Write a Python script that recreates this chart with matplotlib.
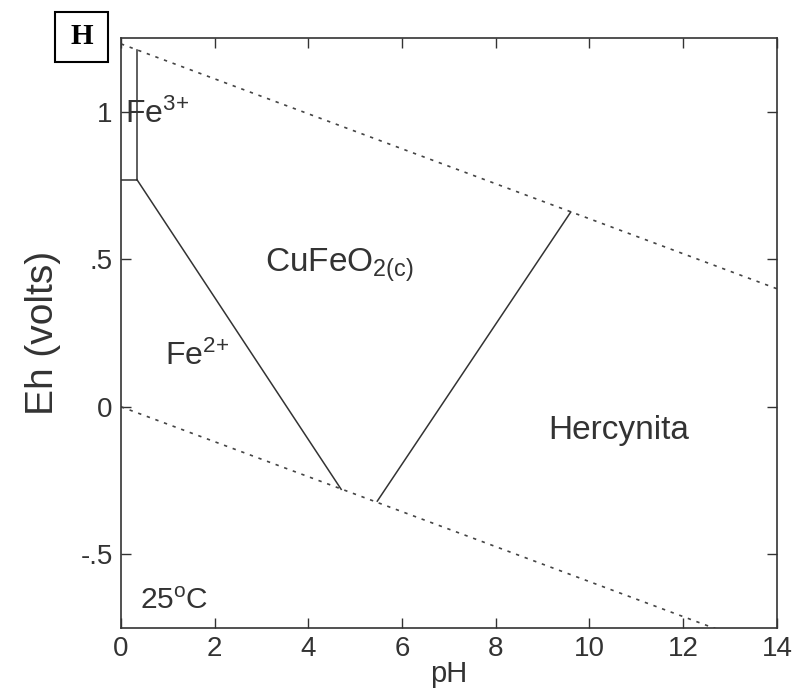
import matplotlib.pyplot as plt
from matplotlib.patches import Rectangle

plt.rcParams['font.family'] = ['Liberation Sans', 'DejaVu Sans']
plt.rcParams['mathtext.fontset'] = 'custom'
plt.rcParams['mathtext.rm'] = 'Liberation Sans'
plt.rcParams['mathtext.it'] = 'Liberation Sans'
plt.rcParams['mathtext.default'] = 'regular'

ink = '#333333'

# water stability limits (dotted)
water_ph = [0, 14]
water_upper = [1.23, 0.40]
water_lower = [0.0, -0.83]

# phase boundaries (solid)
fe3_fe2_ph, fe3_fe2_eh = [0, 0.34], [0.77, 0.77]
fe3_cu_ph, fe3_cu_eh = [0.34, 0.34], [0.77, 1.21]
fe2_cu_ph, fe2_cu_eh = [0.34, 4.70], [0.77, -0.28]
cu_herc_ph, cu_herc_eh = [5.47, 9.60], [-0.32, 0.66]

# field labels: text, pH, Eh, size
labels = [
    ('Fe$^{3{+}}$', 0.09, 0.99, 23),
    ('CuFeO$_{2(c)}$', 3.07, 0.48, 24),
    ('Fe$^{2{+}}$', 0.94, 0.17, 23),
    ('Hercynita', 9.11, -0.08, 24),
    ('25$^{o}$C', 0.40, -0.66, 21.5),
]

xticks = [0, 2, 4, 6, 8, 10, 12, 14]
yticks = [-0.5, 0, 0.5, 1]
yticklabels = ['-.5', '0', '.5', '1']

fig = plt.figure(figsize=(7.96, 6.88), dpi=100)
ax = fig.add_axes([0.152, 0.0872, 0.824, 0.8576])

dots = (0, (2, 3.5))
ax.plot(water_ph, water_upper, color='#444444', lw=1.2, ls=dots)
ax.plot(water_ph, water_lower, color='#444444', lw=1.2, ls=dots)

for xs, ys in [(fe3_fe2_ph, fe3_fe2_eh), (fe3_cu_ph, fe3_cu_eh),
               (fe2_cu_ph, fe2_cu_eh), (cu_herc_ph, cu_herc_eh)]:
    ax.plot(xs, ys, color=ink, lw=1.1)

for txt, x, y, fs in labels:
    ax.text(x, y, txt, fontsize=fs, color=ink, ha='left', va='center')

ax.set_xlim(0, 14)
ax.set_ylim(-0.75, 1.25)
ax.set_xticks(xticks)
ax.set_yticks(yticks)
ax.set_yticklabels(yticklabels)
ax.tick_params(direction='in', length=7, width=1.0, top=True, right=True,
               labelsize=20, colors=ink, pad=6)
for s in ax.spines.values():
    s.set_color(ink)
    s.set_linewidth(1.2)

ax.set_xlabel('pH', fontsize=21, color=ink, labelpad=-2)
ax.set_ylabel('Eh (volts)', fontsize=28, color=ink, labelpad=14)

# panel tag
fig.patches.append(Rectangle((55 / 796, 1 - 62 / 688), 53 / 796, 50 / 688,
                             transform=fig.transFigure, fill=False,
                             edgecolor='black', lw=1.5))
fig.text(81.5 / 796, 1 - 37 / 688, 'H', fontsize=21, fontweight='bold',
         family='Liberation Serif', ha='center', va='center')

fig.savefig('out.png', dpi=100)
